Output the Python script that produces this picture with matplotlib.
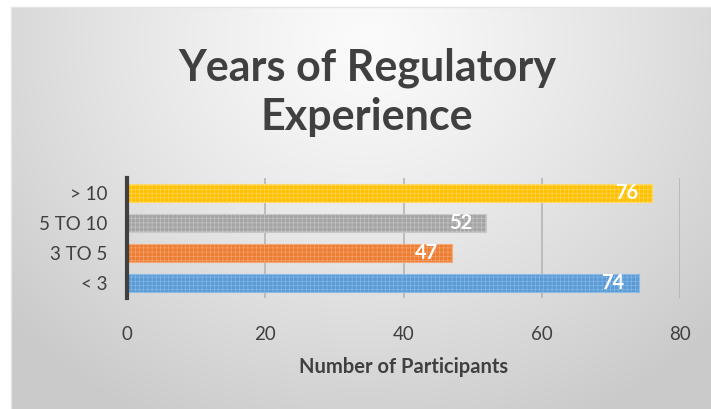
import numpy as np
import matplotlib.pyplot as plt

plt.rcParams["font.family"] = ["Lato", "DejaVu Sans"]
plt.rcParams["hatch.linewidth"] = 0.4

categories = ["< 3", "3 TO 5", "5 TO 10", "> 10"]
participants = [74, 47, 52, 76]
bar_colors = ["#5b9bd5", "#ed7d31", "#a5a5a5", "#ffc000"]
hatch_colors = ["#8cbbe6", "#f5a878", "#c8c8c8", "#ffd966"]
x_ticks = [0, 20, 40, 60, 80]

W, H = 711, 409
fig = plt.figure(figsize=(W / 100, H / 100), dpi=100)
fig.patch.set_facecolor("white")

# radial gradient background
bg = fig.add_axes([0, 0, 1, 1])
bg.set_axis_off()
yy, xx = np.mgrid[0:H, 0:W]
d = np.sqrt(((xx - 365) / 1.0) ** 2 + ((yy - 40) / 0.9) ** 2)
t = np.clip(d / 470.0, 0, 1)
val = 0.985 - 0.19 * t ** 1.2
img = np.dstack([val, val, val])
img[:7, :, :] = 1.0
img[:, :11, :] = 1.0
bg.imshow(img, extent=[0, W, H, 0], aspect="auto", interpolation="bilinear")
bg.plot([11, 11], [7, H], color="#e6e6e6", lw=1)
bg.plot([11, W], [7, 7], color="#e6e6e6", lw=1)
bg.set_xlim(0, W)
bg.set_ylim(H, 0)

fig.text(0.516, 1 - 68 / H, "Years of Regulatory", ha="center", va="center",
         fontsize=31, fontweight="bold", color="#404040")
fig.text(0.516, 1 - 117 / H, "Experience", ha="center", va="center",
         fontsize=31, fontweight="bold", color="#404040")

ax = fig.add_axes([127 / W, 1 - 298 / H, (680 - 127) / W, 120 / H])
ax.set_facecolor("none")
y = np.arange(len(categories))
bars = ax.barh(y, participants, height=0.6, color=bar_colors, zorder=3)
for b, hc in zip(bars, hatch_colors):
    b.set_hatch("++++")
    b.set_edgecolor(hc)
    b.set_linewidth(0.8)

for yi, v in zip(y, participants):
    ax.text(v - 2.0, yi, str(v), ha="right", va="center", fontsize=14.5,
            fontweight="bold", color="white", zorder=4)

ax.set_xlim(0, 80)
ax.set_ylim(-0.5, len(categories) - 0.5)
ax.set_xticks(x_ticks)
ax.set_yticks(y)
ax.set_yticklabels(categories)
ax.xaxis.grid(True, color="#b5b5b5", lw=1.2, zorder=0)
ax.tick_params(axis="both", length=0, labelsize=13.5, labelcolor="#404040")
ax.tick_params(axis="x", pad=20)
ax.tick_params(axis="y", pad=14)
for s in ["top", "right", "bottom"]:
    ax.spines[s].set_visible(False)
ax.spines["left"].set_color("#404040")
ax.spines["left"].set_linewidth(3)
ax.spines["left"].set_zorder(5)
ax.set_xlabel("Number of Participants", fontsize=14.5, fontweight="bold",
              color="#404040", labelpad=10)

fig.savefig("out.png", dpi=100)
